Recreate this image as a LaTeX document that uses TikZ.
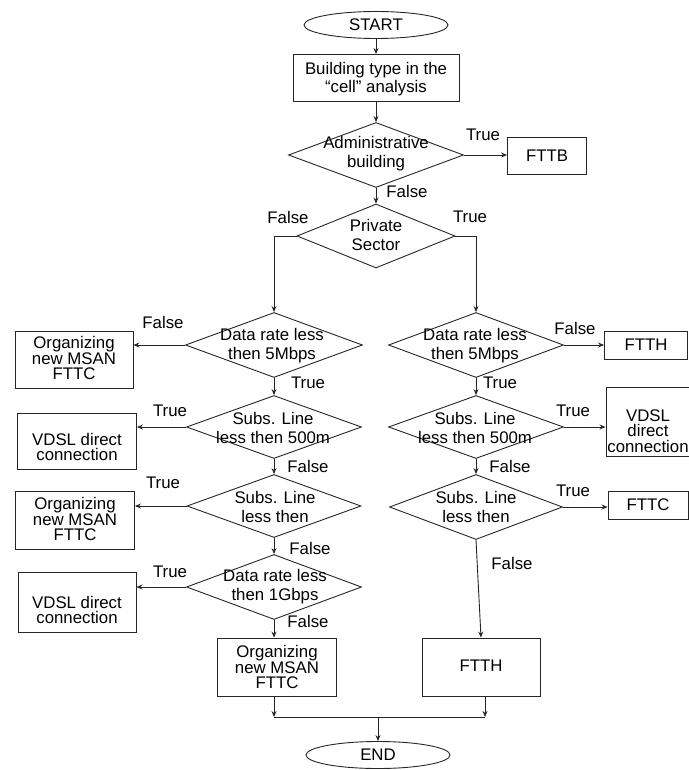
\documentclass[tikz,border=0pt]{standalone}
\usepackage{fontspec}
\setmainfont{Liberation Sans}
\usetikzlibrary{shapes.geometric,arrows.meta}
\begin{document}
\begin{tikzpicture}[x=1pt,y=-1pt,
  line/.style={draw=black!85, line width=0.9pt},
  arr/.style={line, -{Stealth[length=6pt,width=5pt]}},
  box/.style={draw=black!85, line width=0.9pt, rectangle, inner sep=0pt},
  dia/.style={draw=black!85, line width=0.9pt, diamond, inner sep=0pt},
  oval/.style={draw=black!85, line width=0.9pt, ellipse, inner sep=0pt},
  txt/.style={align=center, inner sep=0pt, font=\fontsize{16.8}{18}\selectfont},
  tight/.style={txt, font=\fontsize{16.8}{15.3}\selectfont},
  loose/.style={txt, font=\fontsize{16.8}{19.2}\selectfont},
  lab/.style={inner sep=0pt, font=\fontsize{16.8}{18}\selectfont},
]
\useasboundingbox (0,0) rectangle (688,770);

% shapes
\node[oval, minimum width=144pt, minimum height=27pt] (start) at (376,25) {};
\node[box, minimum width=166pt, minimum height=47pt] (build) at (376,78) {};
\node[dia, minimum width=175pt, minimum height=65pt] (admin) at (376,155) {};
\node[box, minimum width=79pt, minimum height=37pt] (fttb) at (547,156) {};
\node[dia, minimum width=158pt, minimum height=64pt] (private) at (376,236) {};

\node[dia, minimum width=177pt, minimum height=65pt] (dl1) at (274,345) {};
\node[box, minimum width=118pt, minimum height=57pt] (org1) at (74,360) {};
\node[dia, minimum width=175pt, minimum height=63pt] (sl1) at (274,427) {};
\node[box, minimum width=119pt, minimum height=56pt] (vd1) at (77,441) {};
\node[dia, minimum width=174pt, minimum height=63pt] (sl2) at (274,506) {};
\node[box, minimum width=119pt, minimum height=58pt] (org2) at (75,520) {};
\node[dia, minimum width=175pt, minimum height=65pt] (dg) at (274,587) {};
\node[box, minimum width=118pt, minimum height=60pt] (vd2) at (77,602) {};
\node[box, minimum width=119pt, minimum height=58pt] (org3) at (277,667) {};

\node[dia, minimum width=175pt, minimum height=65pt] (dr1) at (476,345) {};
\node[box, minimum width=83pt, minimum height=28pt] (ftth1) at (646,345) {};
\node[dia, minimum width=175pt, minimum height=63pt] (sr1) at (476,427) {};
\node[box, minimum width=86pt, minimum height=69pt] (vdr) at (649,422) {};
\node[dia, minimum width=173pt, minimum height=65pt] (sr2) at (476,507) {};
\node[box, minimum width=80pt, minimum height=28pt] (fttc) at (648,505) {};
\node[box, minimum width=118pt, minimum height=58pt] (ftth2) at (481,667) {};
\node[oval, minimum width=144pt, minimum height=27pt] (end) at (378,755) {};

% texts
\node[txt] (start-t) at (start) {START};
\node[txt] (build-t) at (376,79) {Building type in the\\“cell” analysis};
\node[loose] (admin-t) at (376,154) {Administrative\\building};
\node[txt] (fttb-t) at (fttb) {FTTB};
\node[loose] (private-t) at (376,235) {Private\\Sector};

\node[loose] (dl1-t) at (272,346) {Data rate less\\then 5Mbps};
\node[tight] (org1-t) at (74,358) {Organizing\\new MSAN\\FTTC};
\node[loose] (sl1-t) at (273,428) {Subs. Line\\less then 500m};
\node[tight] (vd1-t) at (77,447) {VDSL direct\\connection};
\node[loose] (sl2-t) at (275,507) {Subs. Line\\less then};
\node[tight] (org2-t) at (75,519) {Organizing\\new MSAN\\FTTC};
\node[loose] (dg-t) at (275,587) {Data rate less\\then 1Gbps};
\node[tight] (vd2-t) at (77,610) {VDSL direct\\connection};
\node[tight] (org3-t) at (277,667) {Organizing\\new MSAN\\FTTC};

\node[loose] (dr1-t) at (475,346) {Data rate less\\then 5Mbps};
\node[txt] (ftth1-t) at (646,345) {FTTH};
\node[loose] (sr1-t) at (475,428) {Subs. Line\\less then 500m};
\node[tight] (vdr-t) at (648,431) {VDSL\\direct\\connection};
\node[loose] (sr2-t) at (476,507) {Subs. Line\\less then};
\node[txt] (fttc-t) at (648,505) {FTTC};
\node[txt] (ftth2-t) at (481,666) {FTTH};
\node[txt] (end-t) at (end) {END};

% labels
\node[lab] (l1) at (483,135) {True};
\node[lab] (l2) at (407,191) {False};
\node[lab] (l3) at (288,217) {False};
\node[lab] (l4) at (470,217) {True};
\node[lab] (l5) at (163,322) {False};
\node[lab] (l6) at (308,383) {True};
\node[lab] (l7) at (170,411) {True};
\node[lab] (l8) at (308,466) {False};
\node[lab] (l9) at (163,483) {True};
\node[lab] (l10) at (310,548) {False};
\node[lab] (l11) at (170,572) {True};
\node[lab] (l12) at (308,621) {False};
\node[lab] (l13) at (575,328) {False};
\node[lab] (l14) at (500,383) {True};
\node[lab] (l15) at (573,411) {True};
\node[lab] (l16) at (510,466) {False};
\node[lab] (l17) at (573,491) {True};
\node[lab] (l18) at (512,563) {False};

% connectors
\draw[arr] (start) -- (build);
\draw[arr] (build) -- (admin);
\draw[arr] (admin.east) -- (admin.east -| fttb.west);
\draw[arr] (admin) -- (private);
\draw[arr] (private.west) -| (dl1.north);
\draw[arr] (private.east) -| (dr1.north);

\draw[arr] (dl1.west) -- (dl1.west -| org1.east);
\draw[arr] (dl1) -- (sl1);
\draw[arr] (sl1.west) -- (sl1.west -| vd1.east);
\draw[arr] (sl1) -- (sl2);
\draw[arr] (sl2.west) -- (sl2.west -| org2.east);
\draw[arr] (sl2) -- (dg);
\draw[arr] (dg.west) -- (dg.west -| vd2.east);
\draw[arr] (dg.south) -- (dg.south |- org3.north);

\draw[arr] (dr1.east) -- (dr1.east -| ftth1.west);
\draw[arr] (dr1) -- (sr1);
\draw[arr] (sr1.east) -- (sr1.east -| vdr.west);
\draw[arr] (sr1) -- (sr2);
\draw[arr] (sr2.east) -- (sr2.east -| fttc.west);
\draw[arr] (sr2.south) -- (ftth2.north);

\coordinate (jl) at (274,717);
\coordinate (jr) at (485,717);
\coordinate (jm) at (378,717);
\draw[arr] (org3.south -| jl) -- (jl);
\draw[arr] (ftth2.south -| jr) -- (jr);
\draw[line] (jl) -- (jr);
\draw[arr] (jm) -- (end);
\end{tikzpicture}
\end{document}
